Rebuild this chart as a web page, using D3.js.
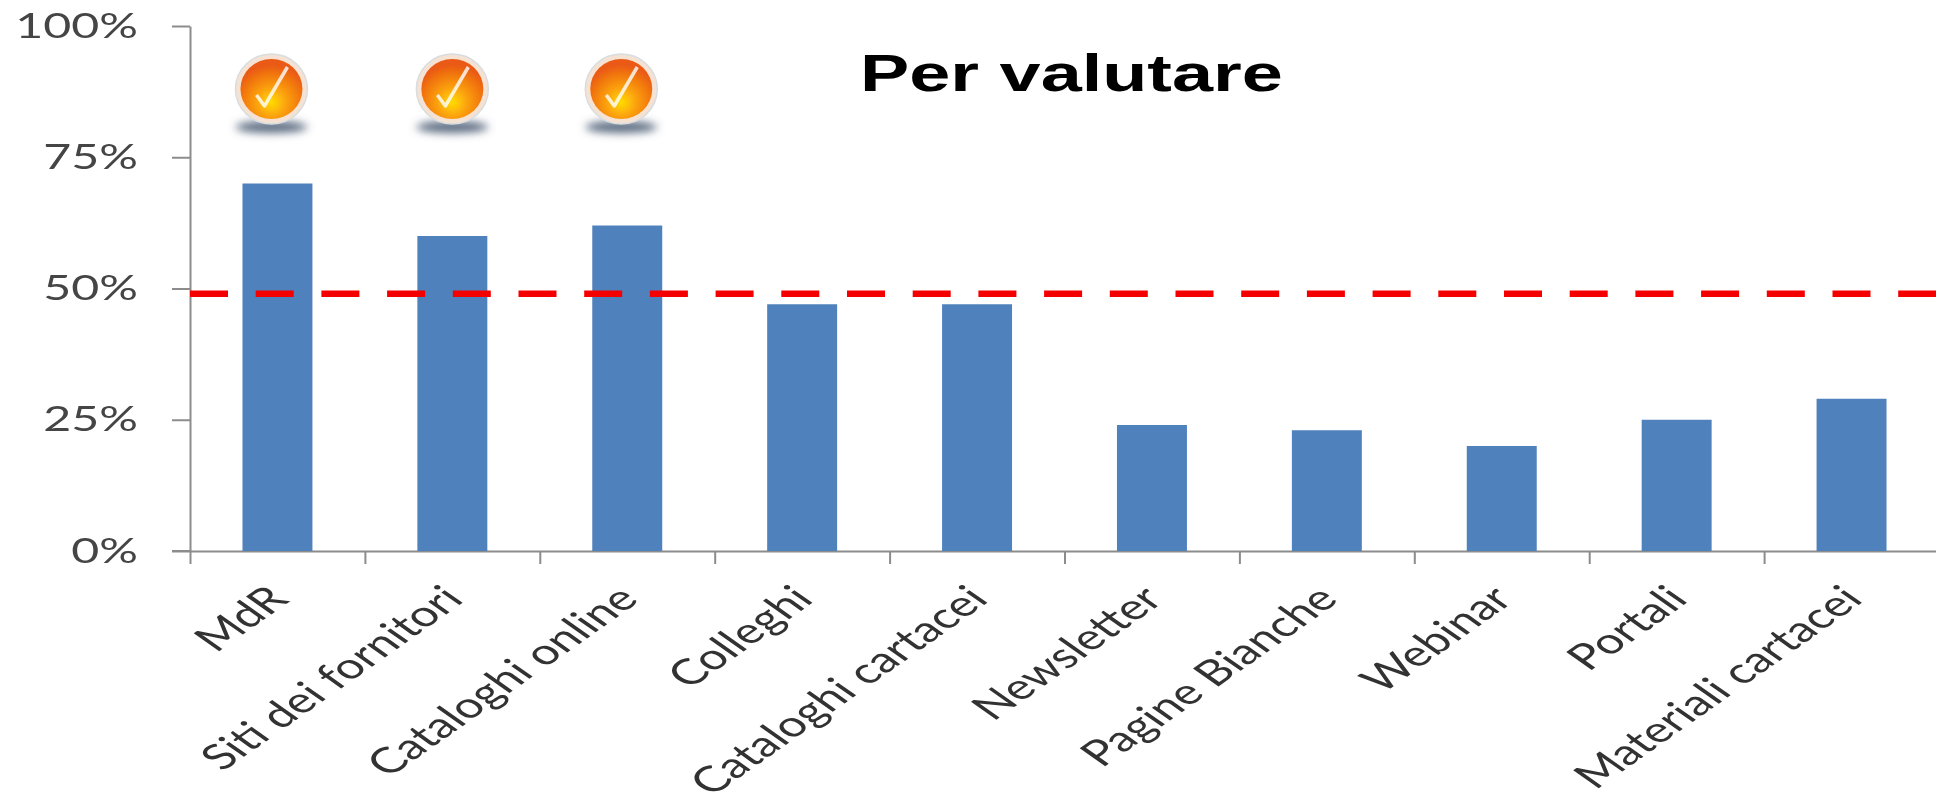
<!DOCTYPE html>
<html>
<head>
<meta charset="utf-8">
<script src="https://cdnjs.cloudflare.com/ajax/libs/d3/7.8.5/d3.min.js"></script>
<style>
html, body { margin: 0; padding: 0; background: #fff; overflow: hidden; }
svg { display: block; }
</style>
</head>
<body>
<div id="chart"></div>
<script>
// Data =====================================================
const categories = ["MdR", "Siti dei fornitori", "Cataloghi online", "Colleghi", "Cataloghi cartacei",
                    "Newsletter", "Pagine Bianche", "Webinar", "Portali", "Materiali cartacei"];
const values = [70, 60, 62, 47, 47, 24, 23, 20, 25, 29];
const yTicks = [0, 25, 50, 75, 100];
const threshold = 49;
const checked = ["MdR", "Siti dei fornitori", "Cataloghi online"];
const title = "Per valutare";
// ===========================================================

const w = 1936, h = 803;
const stretch = 1.42;   // the picture is wider than it was drawn

const root = d3.select("#chart").append("svg")
    .attr("width", w)
    .attr("height", h)
    .style("background", "#fff");

const defs = root.append("defs");
defs.append("filter").attr("id", "soft")
    .attr("filterUnits", "userSpaceOnUse")
    .attr("x", 0).attr("y", 0).attr("width", w).attr("height", h)
    .append("feGaussianBlur").attr("stdDeviation", 0.7);
defs.append("filter").attr("id", "softer")
    .attr("x", "-30%").attr("y", "-150%").attr("width", "160%").attr("height", "400%")
    .append("feGaussianBlur").attr("stdDeviation", 4);

const orange = defs.append("radialGradient").attr("id", "orange")
    .attr("cx", "50%").attr("cy", "72%").attr("r", "62%");
orange.append("stop").attr("offset", "0%").attr("stop-color", "#ffdc00");
orange.append("stop").attr("offset", "40%").attr("stop-color", "#fba00f");
orange.append("stop").attr("offset", "100%").attr("stop-color", "#ea5a12");

const svg = root.append("g").attr("filter", "url(#soft)");

const x = d3.scaleBand().domain(categories).range([190, 1939]).paddingInner(0.6).paddingOuter(0.3);
const y = d3.scaleLinear().domain([0, 100]).range([551, 26]);
const xTicks = d3.scaleLinear().domain([0, categories.length]).range(x.range());

// Axes =====================================================
const gy = svg.append("g")
    .attr("class", "axis")
    .attr("transform", "translate(190,0)")
    .call(d3.axisLeft(y).tickValues(yTicks).tickSize(18).tickSizeOuter(0).tickFormat(d => d + "%"));

gy.selectAll("text")
    .attr("x", null)
    .attr("dy", null)
    .attr("y", 11)
    .attr("transform", `translate(-52,0) scale(${stretch},1)`)
    .attr("fill", "#444")
    .style("font-family", "Lato, 'Open Sans', sans-serif")
    .style("font-size", "34px");

const gx = svg.append("g")
    .attr("class", "axis")
    .attr("transform", `translate(0,${y(0)})`)
    .call(d3.axisBottom(xTicks).tickValues(d3.range(categories.length)).tickSize(13).tickSizeOuter(0).tickFormat(""));

gx.append("line")
    .attr("x1", 172).attr("x2", 190);

svg.selectAll(".axis path, .axis line")
    .attr("stroke", "#8c8c8c")
    .attr("stroke-width", 2);

// Bars =====================================================
svg.append("g").selectAll("rect")
    .data(categories)
    .join("rect")
    .attr("x", d => x(d))
    .attr("y", (d, i) => y(values[i]))
    .attr("width", x.bandwidth())
    .attr("height", (d, i) => y(0) - y(values[i]))
    .attr("fill", "#4f81bd");

svg.append("line")
    .attr("x1", x.range()[0])
    .attr("x2", w)
    .attr("y1", y(threshold))
    .attr("y2", y(threshold))
    .attr("stroke", "#f50000")
    .attr("stroke-width", 6.5)
    .attr("stroke-dasharray", "38 27.7");

// Labels ===================================================
svg.append("g").selectAll("text")
    .data(categories)
    .join("text")
    .attr("transform", d => `translate(${x(d) + x.bandwidth() / 2 + 13},${y(0) + 50}) scale(${stretch},1) rotate(-45)`)
    .attr("text-anchor", "end")
    .attr("fill", "#333")
    .style("font-family", "Lato, 'Open Sans', sans-serif")
    .style("font-size", "35.5px")
    .text(d => d);

svg.append("text")
    .attr("transform", `translate(860,91) scale(${stretch},1)`)
    .attr("fill", "#000")
    .style("font-family", "'Liberation Sans', Arial, sans-serif")
    .style("font-weight", "bold")
    .style("font-size", "52px")
    .text(title);

// Check icons ==============================================
const icon = svg.append("g").selectAll("g")
    .data(checked)
    .join("g")
    .attr("transform", (d, i) => `translate(${x(d) + x.bandwidth() / 2 - (i === 1 ? 0 : 6)},${y(88)})`);

icon.append("ellipse")
    .attr("cy", 38).attr("rx", 36).attr("ry", 6)
    .attr("fill", "#5a6a80")
    .attr("filter", "url(#softer)");
icon.append("ellipse")
    .attr("rx", 36).attr("ry", 35)
    .attr("fill", "#f6e2d2")
    .attr("stroke", "#d8dde0")
    .attr("stroke-width", 1.5);
icon.append("ellipse")
    .attr("rx", 31).attr("ry", 30)
    .attr("fill", "url(#orange)");
icon.append("path")
    .attr("d", d3.line()([[-15, 6], [-7, 17], [16, -22]]))
    .attr("fill", "none")
    .attr("stroke", "#fff")
    .attr("stroke-width", 3.5)
    .attr("stroke-linejoin", "round")
    .attr("opacity", 0.8);
</script>
</body>
</html>
